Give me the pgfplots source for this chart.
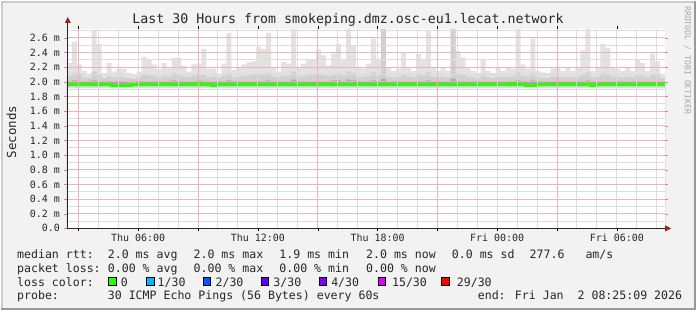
\documentclass[border=0pt]{standalone}
\usepackage{pgfplots}
\pgfplotsset{compat=1.18}
\usepackage{pgfplotstable}
\usepackage{fontspec}
\setmainfont{DejaVu Sans Mono}
\definecolor{bgc}{HTML}{F2F2F2}
\definecolor{majred}{HTML}{EEB4B4}
\definecolor{tickred}{HTML}{E08080}
\definecolor{mingray}{HTML}{DCDCDC}
\definecolor{smokeA}{HTML}{E2E2E2}
\definecolor{smokeB}{HTML}{D0D0D0}
\definecolor{smokeC}{HTML}{A8A8A8}
\definecolor{medgreen}{HTML}{26FF00}
\definecolor{arrowred}{HTML}{A02020}
\definecolor{lc0}{HTML}{26FF00}
\definecolor{lc1}{HTML}{00B8FF}
\definecolor{lc2}{HTML}{0059FF}
\definecolor{lc3}{HTML}{5E00FF}
\definecolor{lc4}{HTML}{7E00FF}
\definecolor{lc15}{HTML}{DD00FF}
\definecolor{lc29}{HTML}{FF0000}

\pgfplotstableread{
t mx md dk med
2.42 2.26 2.08 2.01 1.965
2.67 2.55 2.12 2.02 1.965
2.92 2.24 2.10 2.01 1.965
3.17 2.15 2.06 2.00 1.965
3.42 2.10 2.05 2.00 1.970
3.67 2.71 2.14 2.02 1.970
3.92 2.52 2.10 2.01 1.965
4.17 2.12 2.05 2.00 1.970
4.42 2.26 2.08 2.00 1.960
4.67 2.14 2.06 2.00 1.955
4.92 2.18 2.07 2.00 1.950
5.17 2.18 2.06 2.00 1.950
5.42 2.12 2.05 1.99 1.955
5.67 2.10 2.04 1.99 1.960
5.92 2.14 2.06 2.00 1.960
6.17 2.34 2.10 2.01 1.965
6.42 2.30 2.09 2.01 1.960
6.67 2.24 2.08 2.00 1.965
6.92 2.17 2.06 2.00 1.960
7.17 2.26 2.08 2.01 1.965
7.42 2.20 2.07 2.00 1.965
7.67 2.33 2.12 2.02 1.970
7.92 2.33 2.10 2.01 1.965
8.17 2.22 2.07 2.00 1.965
8.42 2.14 2.06 2.00 1.960
8.67 2.24 2.08 2.01 1.965
8.92 2.25 2.09 2.02 1.985
9.17 2.45 2.10 2.01 1.960
9.42 2.18 2.06 2.00 1.965
9.67 2.18 2.07 2.00 1.955
9.92 2.10 2.05 2.00 1.965
10.17 2.25 2.08 2.01 1.970
10.42 2.67 2.12 2.02 1.965
10.67 2.16 2.06 2.00 1.960
10.92 2.20 2.07 2.00 1.965
11.17 2.24 2.08 2.01 1.965
11.42 2.27 2.09 2.01 1.970
11.67 2.28 2.10 2.01 1.965
11.92 2.48 2.11 2.01 1.965
12.17 2.45 2.10 2.01 1.970
12.42 2.67 2.12 2.02 1.965
12.67 2.20 2.07 2.00 1.965
12.92 2.14 2.06 2.00 1.960
13.17 2.27 2.08 2.01 1.965
13.42 2.25 2.08 2.01 1.965
13.67 2.72 2.14 2.03 1.965
13.92 2.20 2.07 2.00 1.960
14.17 2.25 2.08 2.01 1.965
14.42 2.31 2.09 2.01 1.965
14.67 2.31 2.10 2.01 1.970
14.92 2.44 2.11 2.01 1.965
15.17 2.36 2.10 2.01 1.965
15.42 2.22 2.08 2.00 1.965
15.67 2.39 2.11 2.02 1.965
15.92 2.52 2.12 2.02 1.970
16.17 2.30 2.09 2.01 1.965
16.42 2.72 2.14 2.03 1.965
16.67 2.50 2.12 2.02 1.965
16.92 2.20 2.07 2.00 1.960
17.17 2.18 2.07 2.00 1.965
17.42 2.25 2.08 2.01 1.965
17.67 2.59 2.13 2.02 1.965
17.92 2.30 2.09 2.01 1.965
18.17 2.72 2.72 2.04 1.965
18.42 2.20 2.07 2.00 1.965
18.67 2.15 2.06 2.00 1.965
18.92 2.18 2.07 2.00 1.960
19.17 2.40 2.10 2.01 1.965
19.42 2.20 2.07 2.00 1.965
19.67 2.15 2.06 2.00 1.965
19.92 2.38 2.10 2.01 1.965
20.17 2.30 2.09 2.01 1.965
20.42 2.70 2.13 2.02 1.970
20.67 2.20 2.07 2.00 1.965
20.92 2.15 2.06 2.00 1.965
21.17 2.20 2.07 2.00 1.960
21.42 2.15 2.06 2.00 1.965
21.67 2.72 2.72 2.04 1.965
21.92 2.42 2.11 2.01 1.965
22.17 2.33 2.10 2.01 1.965
22.42 2.20 2.07 2.00 1.965
22.67 2.15 2.06 2.00 1.960
22.92 2.12 2.05 2.00 1.965
23.17 2.30 2.09 2.01 1.965
23.42 2.15 2.06 2.00 1.965
23.67 2.12 2.05 2.00 1.965
23.92 2.20 2.07 2.00 1.960
24.17 2.15 2.06 2.00 1.965
24.42 2.20 2.07 2.00 1.970
24.67 2.18 2.07 2.00 1.975
24.92 2.72 2.13 2.02 1.965
25.17 2.24 2.08 2.00 1.960
25.42 2.18 2.07 2.00 1.955
25.67 2.59 2.12 2.02 1.955
25.92 2.15 2.06 2.00 1.960
26.17 2.13 2.05 2.00 1.965
26.42 2.12 2.05 2.00 1.965
26.67 2.18 2.07 2.00 1.965
26.92 2.20 2.07 2.00 1.965
27.17 2.15 2.06 2.00 1.960
27.42 2.20 2.07 2.00 1.965
27.67 2.15 2.06 2.00 1.965
27.92 2.20 2.07 2.00 1.965
28.17 2.43 2.10 2.01 1.960
28.42 2.72 2.13 2.02 1.965
28.67 2.15 2.06 2.00 1.955
28.92 2.20 2.07 2.00 1.965
29.17 2.52 2.12 2.01 1.965
29.42 2.46 2.11 2.01 1.965
29.67 2.20 2.07 2.00 1.970
29.92 2.18 2.07 2.00 1.970
30.17 2.15 2.06 2.00 1.965
30.42 2.20 2.07 2.00 1.965
30.67 2.15 2.06 2.00 1.965
30.92 2.30 2.09 2.01 1.965
31.17 2.26 2.08 2.01 1.965
31.42 2.15 2.06 2.00 1.965
31.67 2.39 2.10 2.01 1.965
31.92 2.28 2.09 2.01 1.965
32.17 2.10 2.05 2.00 1.965
32.42 2.10 2.05 2.00 1.965
}\smoke

\newcommand\lf{\fontsize{11.6}{13}\selectfont}

\begin{document}
\begin{tikzpicture}
\begin{scope}[x=1pt,y=1pt]
\fill[bgc] (0,0) rectangle (697,310);
\draw[line width=2pt, draw=white!80!black] (1,0) -- (1,309) -- (697,309);
\draw[line width=2pt, draw=white!60!black] (0,1) -- (696,1) -- (696,310);
\end{scope}

\begin{axis}[
  at={(66pt,82pt)}, anchor=south west,
  scale only axis, width=600pt, height=199.8pt,
  xmin=2.42, xmax=32.42, ymin=0, ymax=2.72,
  axis on top,
  axis line style={draw=none},
  axis background/.style={fill=white},
  xtick={6,12,18,24,30},
  xticklabels={Thu 06:00,Thu 12:00,Thu 18:00,Fri 00:00,Fri 06:00},
  ytick={0,0.2,0.4,0.6,0.8,1.0,1.2,1.4,1.6,1.8,2.0,2.2,2.4,2.6},
  yticklabels={0.0,0.2 m,0.4 m,0.6 m,0.8 m,1.0 m,1.2 m,1.4 m,1.6 m,1.8 m,2.0 m,2.2 m,2.4 m,2.6 m},
  minor xtick={4,5,6,7,8,10,11,12,13,14,16,17,18,19,20,22,23,24,25,26,28,29,30,31,32},
  minor ytick={0.1,0.3,0.5,0.7,0.9,1.1,1.3,1.5,1.7,1.9,2.1,2.3,2.5,2.7},
  extra x ticks={3,9,15,21,27},
  extra x tick labels={},
  extra x tick style={grid=major, tick style={draw=tickred}},
  xmajorgrids=false, xminorgrids=true,
  ymajorgrids=true, yminorgrids=true,
  major grid style={draw=majred, line width=1pt},
  minor grid style={draw=mingray, line width=1pt},
  tick align=outside,
  major tick length=3pt, minor tick length=0pt,
  xtick style={draw=black},
  ytick style={draw=tickred},
  tick label style={font=\fontsize{10}{12}\selectfont, text=black!85},
  yticklabel style={xshift=-0.5pt},
  xticklabel style={yshift=1pt},
]
% smoke layers: each filled down to zero, then the bottom edges restored
\addplot[const plot, fill=smokeA, draw=none, forget plot] table[x=t,y=mx]{\smoke} \closedcycle;
\addplot[const plot, fill=smokeB, draw=none, forget plot] table[x=t,y=md]{\smoke} \closedcycle;
\addplot[const plot, fill=smokeC, draw=none, forget plot] table[x=t,y=dk]{\smoke} \closedcycle;
\addplot[const plot, fill=smokeB, draw=none, forget plot] coordinates {(2.42,1.94) (32.42,1.94)} \closedcycle;
\addplot[const plot, fill=smokeA, draw=none, forget plot] coordinates {(2.42,1.925) (32.42,1.925)} \closedcycle;
\addplot[const plot, fill=white, draw=none, forget plot] coordinates {(2.42,1.91) (32.42,1.91)} \closedcycle;
\addplot[const plot, draw=medgreen, line width=3pt, forget plot] table[x=t,y=med]{\smoke};
\end{axis}

\begin{scope}[x=1pt,y=1pt]
% axes with arrows
\draw[black!85, line width=1pt] (66,82) -- (667,82);
\draw[black!85, line width=1pt] (67,82) -- (67,289);
\fill[arrowred] (666,79) -- (672,82) -- (666,85) -- cycle;
\fill[arrowred] (64,288) -- (67,294) -- (70,288) -- cycle;

% title
\node[anchor=base, inner sep=0, font=\fontsize{13.3}{15}\selectfont, text=black!85] at (348,287) {Last 30 Hours from smokeping.dmz.osc-eu1.lecat.network};
% y label
\node[rotate=90, inner sep=0, font=\fontsize{12.5}{14}\selectfont, text=black!85] at (10.5,178.5) {Seconds};
% watermark
\node[rotate=-90, anchor=west, inner sep=0, font=\fontsize{8.2}{10}\selectfont, text=black!35] at (688.5,305) {RRDTOOL / TOBI OETIKER};

% legend
\begin{scope}[every node/.style={anchor=base west, inner sep=0, font=\lf, text=black!85}]
\node at (16,51.5) {median rtt:};
\node at (107,51.5) {2.0 ms avg};
\node at (193,51.5) {2.0 ms max};
\node at (279,51.5) {1.9 ms min};
\node at (366,51.5) {2.0 ms now};
\node at (452,51.5) {0.0 ms sd};
\node at (530,51.5) {277.6};
\node at (586,51.5) {am/s};

\node at (16,37.5) {packet loss:};
\node at (107,37.5) {0.00 \% avg};
\node at (193,37.5) {0.00 \% max};
\node at (279,37.5) {0.00 \% min};
\node at (366,37.5) {0.00 \% now};

\node at (16,24) {loss color:};
\node at (120,24) {0};
\node at (157,24) {1/30};
\node at (215,24) {2/30};
\node at (273,24) {3/30};
\node at (331,24) {4/30};
\node at (392,24) {15/30};
\node at (457,24) {29/30};

\node at (16,10.5) {probe:};
\node at (107,10.5) {30 ICMP Echo Pings (56 Bytes) every 60s};
\node at (478,10.5) {end: Fri Jan\ \ 2 08:25:09 2026};
\end{scope}
\foreach \xx/\cc in {108/lc0,146/lc1,203/lc2,261/lc3,319/lc4,378/lc15,442/lc29}{
  \filldraw[fill=\cc, draw=black, line width=0.8pt] (\xx,25) rectangle ++(7.5,7.5);
}
\end{scope}
\end{tikzpicture}
\end{document}
